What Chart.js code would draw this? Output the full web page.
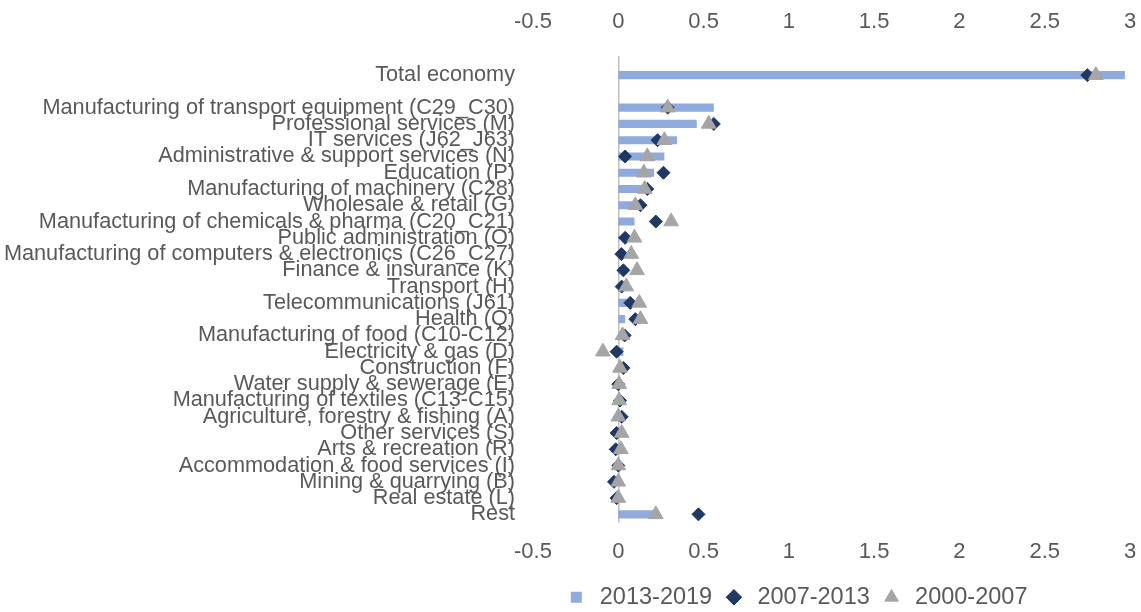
<!DOCTYPE html>
<html>
<head>
<meta charset="utf-8">
<script src="https://cdn.jsdelivr.net/npm/chart.js@4.4.1/dist/chart.umd.min.js"></script>
<style>
  html, body { margin: 0; padding: 0; background: #fff; }
  #wrap { width: 1141px; height: 612px; }
</style>
</head>
<body>
<div id="wrap"><canvas id="gvaChart"></canvas></div>
<script>
const categories = [
    'Total economy', '',
    'Manufacturing of transport equipment (C29_C30)',
    'Professional services (M)',
    'IT services (J62_J63)',
    'Administrative & support services (N)',
    'Education (P)',
    'Manufacturing of machinery (C28)',
    'Wholesale & retail (G)',
    'Manufacturing of chemicals & pharma (C20_C21)',
    'Public administration (O)',
    'Manufacturing of computers & electronics (C26_C27)',
    'Finance & insurance (K)',
    'Transport (H)',
    'Telecommunications (J61)',
    'Health (Q)',
    'Manufacturing of food (C10-C12)',
    'Electricity & gas (D)',
    'Construction (F)',
    'Water supply & sewerage (E)',
    'Manufacturing of textiles (C13-C15)',
    'Agriculture, forestry & fishing (A)',
    'Other services (S)',
    'Arts & recreation (R)',
    'Accommodation & food services (I)',
    'Mining & quarrying (B)',
    'Real estate (L)',
    'Rest'
];
const period2013_2019 = [2.97, null, 0.56, 0.46, 0.345, 0.27, 0.21, 0.14, 0.08, 0.095, 0.005, 0.005, 0.005, 0.06, 0.05, 0.04, 0.005, 0.03, 0.005, 0.0, 0.0, 0.0, 0.0, 0.0, 0.0, 0.0, 0.0, 0.21];
const period2007_2013 = [2.75, null, 0.29, 0.56, 0.23, 0.04, 0.265, 0.17, 0.13, 0.22, 0.04, 0.018, 0.03, 0.02, 0.07, 0.10, 0.037, -0.01, 0.03, 0.0, 0.01, 0.02, -0.01, -0.015, 0.0, -0.025, -0.01, 0.47];
const period2000_2007 = [2.80, null, 0.29, 0.53, 0.27, 0.17, 0.15, 0.155, 0.10, 0.31, 0.095, 0.076, 0.11, 0.047, 0.123, 0.13, 0.025, -0.09, 0.01, 0.005, 0.005, 0.0, 0.02, 0.015, 0.0, 0.0, 0.0, 0.22];
const xTicks = [-0.5, 0, 0.5, 1, 1.5, 2, 2.5, 3];

const fontFamily = "'Liberation Sans', Arial, sans-serif";
const textColor = '#595959';

// nudge the legend to sit under the plot like the original
const legendShift = {
    id: 'legendShift',
    afterLayout(chart) {
        chart.legend.left += 231;
        chart.legend.right += 231;
        chart.legend.top += 7;
        chart.legend.bottom += 7;
    }
};

const tickText = v => String(v);

const ctx = document.getElementById('gvaChart');
new Chart(ctx, {
    type: 'bar',
    data: {
        labels: categories,
        datasets: [{
            label: '2013-2019',
            data: period2013_2019,
            backgroundColor: '#8FAADC',
            barPercentage: 0.5,
            categoryPercentage: 1,
            pointStyle: 'rect',
            order: 3
        }, {
            type: 'line',
            label: '2007-2013',
            data: period2007_2013,
            indexAxis: 'y',
            showLine: false,
            pointStyle: 'rectRot',
            pointRadius: 6.5,
            pointBackgroundColor: '#203864',
            pointBorderColor: '#203864',
            backgroundColor: '#203864',
            borderColor: '#203864',
            pointBorderWidth: 1,
            order: 2
        }, {
            type: 'line',
            label: '2000-2007',
            data: period2000_2007,
            indexAxis: 'y',
            showLine: false,
            pointStyle: 'triangle',
            pointRadius: 8.5,
            pointBackgroundColor: '#A5A5A5',
            pointBorderColor: '#A5A5A5',
            backgroundColor: '#A5A5A5',
            borderColor: '#A5A5A5',
            pointBorderWidth: 1,
            order: 1
        }]
    },
    options: {
        indexAxis: 'y',
        responsive: true,
        maintainAspectRatio: false,
        animation: false,
        layout: { padding: { left: 0, right: 11, top: 0, bottom: 0 } },
        scales: {
            x: {
                position: 'bottom',
                min: -0.5,
                max: 3,
                afterBuildTicks(scale) { scale.ticks = xTicks.map(v => ({ value: v })); },
                afterFit(scale) { scale.height = 46; },
                border: { display: false },
                grid: { display: false, drawTicks: false },
                ticks: {
                    color: textColor,
                    font: { family: fontFamily, size: 22, lineHeight: 2.27 },
                    padding: 4, maxRotation: 0, callback: tickText
                }
            },
            xTop: {
                position: 'top',
                min: -0.5,
                max: 3,
                afterBuildTicks(scale) { scale.ticks = xTicks.map(v => ({ value: v })); },
                afterFit(scale) { scale.height = 67; },
                border: { display: false },
                grid: {
                    color: c => (c.tick && c.tick.value === 0) ? '#BFBFBF' : 'rgba(0,0,0,0)',
                    lineWidth: 1.5,
                    tickLength: 11
                },
                ticks: {
                    color: textColor,
                    font: { family: fontFamily, size: 22, lineHeight: 2.75 },
                    padding: 4, maxRotation: 0, callback: tickText
                }
            },
            y: {
                afterFit(scale) { scale.width = 533; },
                border: { display: false },
                grid: { display: false, drawTicks: false },
                ticks: {
                    color: textColor,
                    font: { family: fontFamily, size: 21.7 },
                    padding: 18, autoSkip: false
                }
            }
        },
        plugins: {
            title: { display: false },
            tooltip: { enabled: false },
            legend: {
                position: 'bottom',
                labels: {
                    usePointStyle: true,
                    boxHeight: 11,
                    color: textColor,
                    font: { family: fontFamily, size: 23.5 },
                    padding: 10,
                    sort: (a, b) => a.datasetIndex - b.datasetIndex
                }
            }
        }
    },
    plugins: [legendShift]
});
</script>
</body>
</html>
